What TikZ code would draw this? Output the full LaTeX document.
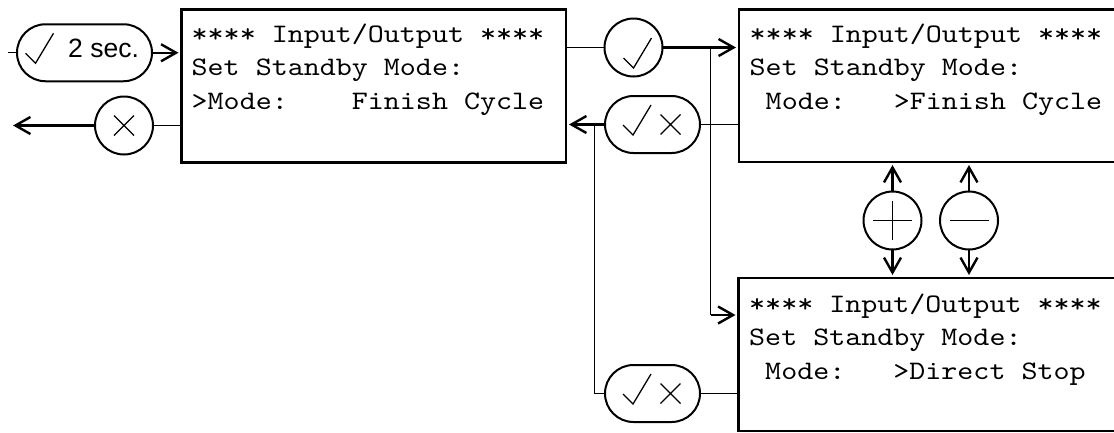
\documentclass[tikz,border=0pt]{standalone}
\usepackage{fontspec}
\setmainfont{Liberation Sans}
\newfontfamily\lcdfont{lmmono10-regular.otf}[FakeStretch=1.143]
\usetikzlibrary{arrows.meta,calc}

\tikzset{
  screen/.style={draw, line width=2.5pt, inner sep=0pt, outer sep=0pt, anchor=north west},
  lcd/.style={font=\fontsize{26.7}{30}\lcdfont, anchor=base west, inner sep=0pt},
  key/.style={draw, circle, line width=2pt, minimum size=58pt, inner sep=0pt, outer sep=0pt},
  pill/.style={draw, rectangle, rounded corners=28.5pt, line width=2pt, minimum height=57pt, inner sep=0pt, outer sep=0pt},
  wire/.style={line width=1.2pt},
  flow/.style={line width=2.4pt, -{Straight Barb[length=15pt,width=17pt]}, shorten >=3pt},
  glyph/.style={line width=1.3pt},
  pics/tick/.style={code={\draw[glyph] (-10,-10) -- (0,0) -- (18,-30);}},
  pics/cross/.style={code={\draw[glyph] (-10,-10) -- (10,10) (-10,10) -- (10,-10);}},
  pics/plus/.style={code={\draw[glyph] (-19.5,0) -- (19.5,0) (0,-19.5) -- (0,19.5);}},
  pics/minus/.style={code={\draw[glyph] (-19.5,0) -- (19.5,0);}},
}

\begin{document}
\begin{tikzpicture}[x=1pt,y=-1pt]
\useasboundingbox (0,0) rectangle (1114,432);
\clip (0,0) rectangle (1114,432);

% display screens
\node[screen, minimum width=384.5pt, minimum height=153pt] (s1) at (181.5,9.5) {};
\node[screen, minimum width=400pt, minimum height=152.5pt] (s2) at (739,9.5) {};
\node[screen, minimum width=400pt, minimum height=153pt] (s3) at (738.5,278) {};

% screen texts
\node[lcd] (s1a) at ($(s1.north west)+(10,32.5)$) {****~Input/Output~****};
\node[lcd] (s1b) at ($(s1.north west)+(10,66.3)$) {Set~Standby~Mode:};
\node[lcd] (s1c) at ($(s1.north west)+(10,100.1)$) {>Mode:~~~~Finish~Cycle};

\node[lcd] (s2a) at ($(s2.north west)+(10.5,32.5)$) {****~Input/Output~****};
\node[lcd] (s2b) at ($(s2.north west)+(10.5,66.3)$) {Set~Standby~Mode:};
\node[lcd] (s2c) at ($(s2.north west)+(10.5,100.1)$) {~Mode:~~~>Finish~Cycle};

\node[lcd] (s3a) at ($(s3.north west)+(10.5,34)$) {****~Input/Output~****};
\node[lcd] (s3b) at ($(s3.north west)+(10.5,67.8)$) {Set~Standby~Mode:};
\node[lcd] (s3c) at ($(s3.north west)+(10.5,101.6)$) {~Mode:~~~>Direct~Stop};

% keys
\node[pill, minimum width=135pt] (p1) at (84.5,52.75) {};
\pic at (35.5,63.3) {tick};
\node[font=\fontsize{26.5}{30}\selectfont, anchor=base west, inner sep=0pt] (p1t) at (68,57.5) {2 sec.};

\node[key] (k1) at (124,125.5) {};
\pic at (k1) {cross};

\node[key] (k2) at (633.5,47.5) {};
\pic at (633.5,68) {tick};

\node[pill, minimum width=95pt] (p2) at (652.5,124.5) {};
\pic at (633,135) {tick};
\pic at (670.5,124.5) {cross};

\node[pill, minimum width=95pt] (p3) at (652.5,393.5) {};
\pic at (633,404) {tick};
\pic at (670.5,393.5) {cross};

\node[key] (k3) at (892.5,220.5) {};
\pic at (k3) {plus};
\node[key] (k4) at (969,220.5) {};
\pic at (k4) {minus};

% connectors
\coordinate (src) at (8,52.75);
\coordinate (exit) at (10,125.5);
\coordinate (fork) at (710.5,47.5);
\coordinate (bend) at (710.5,315);
\coordinate (merge) at (594.5,124.5);

\draw[wire] (src) -- (p1.west);
\draw[flow] (p1.east) -- (p1.east -| s1.west);

\draw[wire] (s1.west |- k1.east) -- (k1.east);
\draw[flow] (k1.west) -- (exit);

\draw[wire] (s1.east |- k2.west) -- (k2.west);
\draw[flow] (k2.east) -- (k2.east -| s2.west);
\draw[wire] (fork) -- (bend);
\draw[flow] (bend) -- (bend -| s3.west);

\draw[wire] (s2.west |- p2.east) -- (p2.east);
\draw[flow] (p2.west) -- (p2.west -| s1.east);

\draw[wire] (s3.west |- p3.east) -- (p3.east);
\draw[wire] (p3.west) -| (merge);

\draw[flow] (k3.north) -- (k3.north |- s2.south);
\draw[flow] (k3.south) -- (k3.south |- s3.north);
\draw[flow] (k4.north) -- (k4.north |- s2.south);
\draw[flow] (k4.south) -- (k4.south |- s3.north);
\end{tikzpicture}
\end{document}
